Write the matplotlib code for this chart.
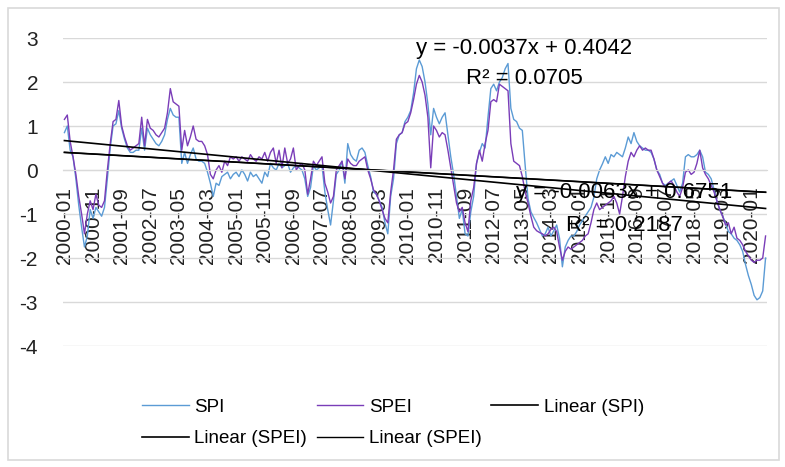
import numpy as np
import pandas as pd
import matplotlib
matplotlib.use("Agg")
import matplotlib.pyplot as plt
from matplotlib.patches import Rectangle

plt.rcParams['font.family'] = ['Liberation Sans', 'DejaVu Sans']
plt.rcParams['axes.unicode_minus'] = False

# monthly categories
months = pd.period_range('2000-01', periods=246, freq='M').strftime('%Y-%m').tolist()

spi = [
    0.85, 1.0, 0.45, 0.3, -0.2, -0.8, -1.3, -1.75, -1.5, -0.9, -1.1, -0.85,      # 2000
    -0.95, -1.05, -0.85, -0.2, 0.5, 1.0, 1.05, 1.35, 0.95, 0.7, 0.5, 0.4,        # 2001
    0.4, 0.45, 0.45, 0.95, 0.45, 0.95, 0.8, 0.7, 0.6, 0.55, 0.65, 0.8,           # 2002
    1.15, 1.4, 1.25, 1.2, 1.2, 0.15, 0.4, 0.15, 0.35, 0.5, 0.25, 0.2,            # 2003
    0.2, 0.15, -0.05, -0.3, -0.6, -0.3, -0.35, -0.15, -0.1, -0.05, -0.2, -0.1,   # 2004
    -0.05, -0.15, 0.0, -0.1, -0.25, -0.05, -0.15, -0.1, -0.2, -0.3, -0.05, -0.15,  # 2005
    0.15, 0.05, 0.0, 0.15, 0.05, 0.1, 0.15, -0.05, 0.05, 0.1, 0.05, 0.0,         # 2006
    -0.2, -0.6, -0.4, 0.1, 0.0, 0.05, 0.1, -0.5, -0.9, -1.25, -0.7, -0.1,        # 2007
    0.0, 0.2, -0.3, 0.6, 0.35, 0.25, 0.2, 0.45, 0.5, 0.4, 0.1, -0.15,            # 2008
    -0.5, -0.55, -0.7, -0.85, -1.2, -1.45, -0.6, -0.2, 0.6, 0.8, 0.85, 1.1,      # 2009
    1.2, 1.35, 1.75, 2.3, 2.5, 2.35, 2.0, 1.5, 0.8, 1.4, 1.2, 1.05,              # 2010
    1.2, 1.3, 0.8, 0.3, -0.1, -0.6, -1.1, -0.9, -1.45, -1.5, -0.95, -0.6,        # 2011
    0.15, 0.4, 0.6, 0.5, 1.2, 1.85, 1.95, 1.8, 2.0, 2.1, 2.3, 2.42,              # 2012
    1.4, 1.15, 1.1, 0.95, 0.9, 0.1, -0.65, -0.95, -1.08, -1.2, -1.35, -1.5,      # 2013
    -1.45, -1.3, -1.5, -1.38, -1.25, -1.55, -2.2, -1.75, -1.6, -1.5, -1.5, -1.4,  # 2014
    -1.25, -1.15, -1.05, -0.95, -0.85, -0.62, -0.2, 0.0, 0.14, 0.3, 0.15, 0.35,  # 2015
    0.3, 0.4, 0.35, 0.3, 0.5, 0.75, 0.6, 0.85, 0.65, 0.55, 0.5, 0.45,            # 2016
    0.45, 0.4, 0.25, 0.0, -0.1, -0.3, -0.35, -0.3, -0.25, -0.2, -0.35, -0.5,     # 2017
    -0.3, 0.3, 0.35, 0.3, 0.3, 0.35, 0.45, 0.3, -0.05, -0.1, -0.2, -0.45,        # 2018
    -0.7, -0.9, -1.05, -1.2, -1.4, -1.45, -1.55, -1.6, -1.7, -1.85, -2.15, -2.4,  # 2019
    -2.6, -2.85, -2.95, -2.9, -2.75, -2.0,                                       # 2020
]

spei = [
    1.15, 1.25, 0.65, 0.3, -0.1, -0.6, -1.0, -1.45, -1.0, -0.7, -0.9, -0.55,     # 2000
    -0.8, -0.85, -0.7, 0.0, 0.6, 1.1, 1.15, 1.58, 1.0, 0.75, 0.55, 0.45,         # 2001
    0.5, 0.55, 0.6, 1.2, 0.55, 1.15, 0.95, 0.9, 0.8, 0.75, 0.85, 0.95,           # 2002
    1.3, 1.85, 1.55, 1.5, 1.45, 0.45, 0.9, 0.55, 0.75, 1.0, 0.7, 0.65,           # 2003
    0.65, 0.55, 0.35, -0.1, -0.2, 0.0, 0.1, -0.05, 0.2, 0.1, 0.3, 0.25,          # 2004
    0.3, 0.2, 0.3, 0.25, 0.2, 0.35, 0.25, 0.2, 0.3, 0.25, 0.4, 0.2,              # 2005
    0.4, 0.5, 0.15, 0.45, 0.05, 0.5, 0.15, 0.25, 0.5, 0.0, 0.1, 0.15,            # 2006
    0.0, -0.55, -0.2, 0.2, 0.1, 0.2, 0.3, -0.3, -0.5, -0.75, -0.6, 0.0,          # 2007
    0.1, 0.2, -0.2, 0.25, 0.15, 0.1, 0.1, 0.2, 0.25, 0.3, 0.0, -0.2,             # 2008
    -0.45, -0.55, -0.7, -0.9, -1.1, -1.2, -0.5, 0.0, 0.7, 0.8, 0.85, 1.05,       # 2009
    1.1, 1.3, 1.6, 1.95, 2.15, 2.0, 1.7, 1.2, 0.05, 1.0, 0.9, 0.75,              # 2010
    0.85, 0.8, 0.45, 0.05, -0.35, -0.75, -0.95, -0.85, -1.2, -1.4, -0.7, -0.4,   # 2011
    0.15, 0.45, 0.2, 0.6, 0.9, 1.55, 1.6, 1.55, 1.95, 1.9, 1.85, 1.8,            # 2012
    0.6, 0.2, 0.15, 0.1, -0.15, -0.5, -0.75, -1.05, -1.3, -1.38, -1.42, -1.45,   # 2013
    -1.5, -1.45, -1.35, -1.3, -1.4, -1.75, -2.05, -1.85, -1.75, -1.8, -1.75, -1.7,  # 2014
    -1.65, -1.6, -1.5, -1.45, -1.2, -0.9, -0.75, -0.9, -0.85, -0.8, -0.75, -0.7,  # 2015
    -0.6, -0.75, -1.0, -0.6, -0.15, 0.2, 0.4, 0.3, 0.45, 0.55, 0.45, 0.5,        # 2016
    0.45, 0.45, 0.25, 0.0, -0.15, -0.3, -0.4, -0.3, -0.25, -0.35, -0.5, -0.6,    # 2017
    -0.4, -0.05, 0.0, -0.1, -0.05, 0.15, 0.45, 0.05, -0.1, -0.2, -0.35, -0.5,    # 2018
    -0.7, -0.9, -1.05, -1.25, -1.2, -1.45, -1.3, -1.55, -1.6, -1.7, -1.85, -1.95,  # 2019
    -2.05, -2.1, -2.05, -2.05, -2.0, -1.5,                                       # 2020
]

# Excel trendlines (x = 1..N)
trend_slopes = [-0.0063, -0.0037]
trend_intercepts = [0.6751, 0.4042]
trend_eqs = ["y = -0.0063x + 0.6751", "y = -0.0037x + 0.4042"]
trend_r2 = ["R\u00b2 = 0.2187", "R\u00b2 = 0.0705"]

n = len(spi)
x = np.arange(n)
xe = x + 1

fig = plt.figure(figsize=(7.85, 4.67), dpi=100)
fig.patches.append(Rectangle((8/785, 7/467), 771/785, 452/467, transform=fig.transFigure,
                             fill=False, edgecolor='#D9D9D9', linewidth=1.2))
ax = fig.add_axes([63/785, 1 - 346/467, 704/785, 308/467])

l_spi, = ax.plot(x, spi, color='#5B9BD5', lw=1.0, label='SPI')
l_spei, = ax.plot(x, spei, color='#7A3DB8', lw=1.0, label='SPEI')
t_spi, = ax.plot(x, trend_slopes[0] * xe + trend_intercepts[0], color='black', lw=1.2, label='Linear (SPI)')
t_spei, = ax.plot(x, trend_slopes[1] * xe + trend_intercepts[1], color='black', lw=1.2, label='Linear (SPEI)')
t_spei2, = ax.plot(x, trend_slopes[1] * xe + trend_intercepts[1], color='black', lw=1.0, label='Linear (SPEI)')

ax.set_xlim(-0.5, n - 0.5)
ax.set_ylim(-4, 3)
ax.set_yticks(range(-4, 4))
ax.grid(axis='y', color='#D9D9D9', lw=1.0)
ax.set_axisbelow(True)
for s in ['top', 'right', 'left']:
    ax.spines[s].set_visible(False)
ax.spines['bottom'].set_position(('data', 0))
ax.spines['bottom'].set_color('#D9D9D9')

ax.set_xticks(x[::10])
ax.set_xticklabels(months[::10], rotation=90)
ax.tick_params(axis='x', length=0, pad=12, labelsize=15, labelcolor='#222222')
ax.tick_params(axis='y', length=0, pad=18, labelsize=15, labelcolor='#222222')

# trendline equations
ax.text(0.655, 0.965, trend_eqs[1], transform=ax.transAxes, ha='center', va='center', fontsize=16)
ax.text(0.655, 0.868, trend_r2[1], transform=ax.transAxes, ha='center', va='center', fontsize=16)
ax.text(0.797, 0.498, trend_eqs[0], transform=ax.transAxes, ha='center', va='center', fontsize=16)
ax.text(0.797, 0.392, trend_r2[0], transform=ax.transAxes, ha='center', va='center', fontsize=16)

handles = [l_spi, t_spei, l_spei, t_spei2, t_spi]
fig.legend(handles, [h.get_label() for h in handles], ncol=3, frameon=False,
           loc='upper left', bbox_to_anchor=(125/785, 1 - 382/467), fontsize=13.5,
           handlelength=2.5, handletextpad=0.3, columnspacing=0.5, labelspacing=0.75)

fig.savefig('out.png', dpi=100)
